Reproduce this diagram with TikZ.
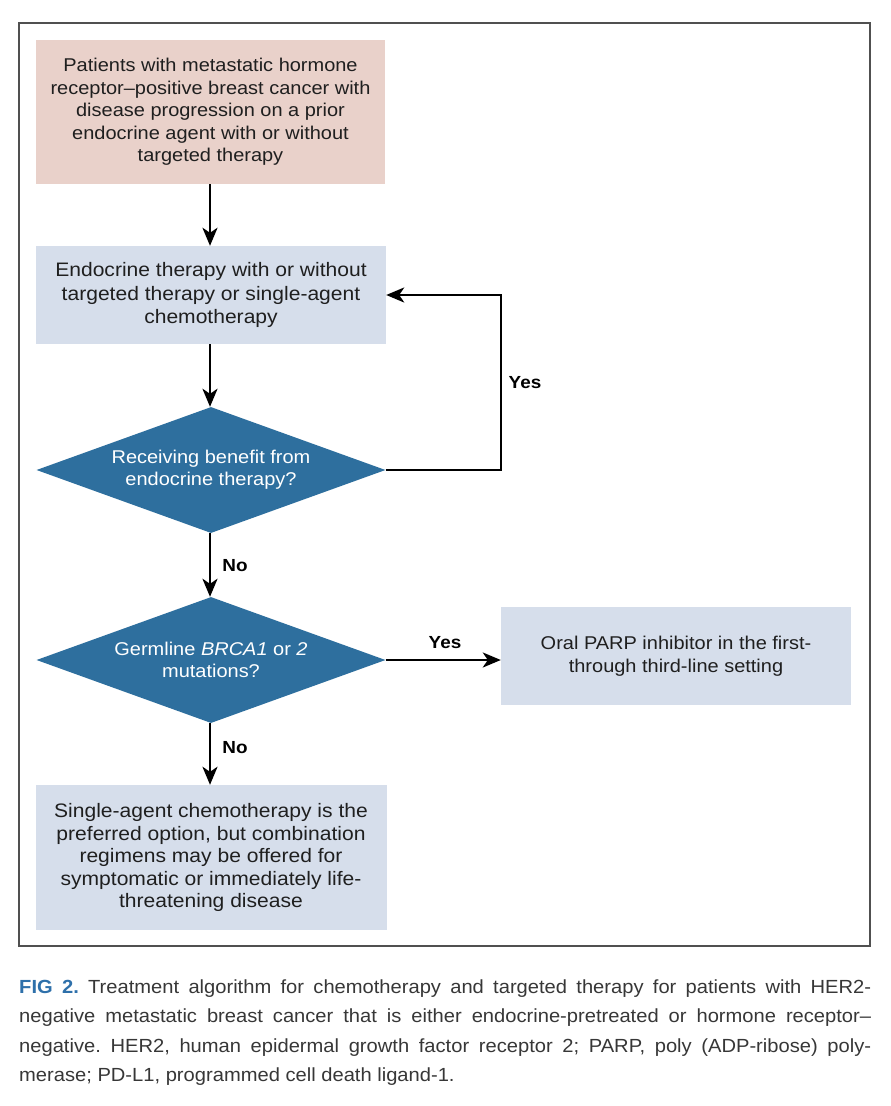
\documentclass[tikz,border=0pt]{standalone}
\usepackage{fontspec}
\setmainfont[FakeStretch=1.08]{Liberation Sans}
\newfontfamily\capfont[FakeStretch=1.06]{Liberation Sans}
\usetikzlibrary{shapes.geometric,arrows.meta}
\frenchspacing
\definecolor{pinkbox}{RGB}{233,209,202}
\definecolor{bluebox}{RGB}{214,222,235}
\definecolor{diamondblue}{RGB}{46,111,158}
\definecolor{figblue}{RGB}{46,112,170}
\definecolor{captext}{RGB}{55,55,55}
\definecolor{framegray}{RGB}{80,80,80}
\tikzset{
  boxtext/.style={font=\fontsize{18.5}{22.5}\selectfont, text=black!88, align=center, inner sep=0pt},
  pinknode/.style={boxtext, fill=pinkbox, minimum width=349pt, minimum height=144pt},
  bluenode/.style={boxtext, fill=bluebox, minimum width=350pt},
  decision/.style={diamond, fill=diamondblue, text=white, align=center, inner sep=0pt,
    minimum width=349pt, minimum height=126pt, shape aspect=2.77,
    font=\fontsize{18.5}{22}\selectfont},
  flowarrow/.style={line width=2.4pt, -{Stealth[length=18pt,width=15pt,inset=5pt]}},
  branchlabel/.style={font=\bfseries\fontsize{17.5}{20}\selectfont, inner sep=0pt},
  capline/.style={anchor=base west, inner sep=0pt, text=captext, font=\capfont\fontsize{19}{24}\selectfont}
}
\begin{document}
\begin{tikzpicture}[x=1pt,y=-1pt]
\useasboundingbox (0,0) rectangle (891,1106);
\fill[white] (0,0) rectangle (891,1106);
\draw[framegray, line width=1.5pt] (19,23) rectangle (870,946);

\node[pinknode] (start) at (210.5,112) {Patients with metastatic hormone\\receptor–positive breast cancer with\\disease progression on a prior\\endocrine agent with or without\\targeted therapy};
\node[bluenode, minimum height=98pt, font=\fontsize{19.5}{23.5}\selectfont] (endo) at (211,295) {Endocrine therapy with or without\\targeted therapy or single-agent\\chemotherapy};
\node[decision] (benefit) at (211,470) {Receiving benefit from\\endocrine therapy?};
\node[decision] (brca) at (211,660) {Germline \textit{BRCA1} or \textit{2}\\mutations?};
\node[bluenode, minimum height=98pt] (parp) at (676,656) {Oral PARP inhibitor in the first-\\through third-line setting};
\node[bluenode, minimum height=145pt, minimum width=351pt, font=\fontsize{19.5}{22.5}\selectfont] (chemo) at (211,857.5) {Single-agent chemotherapy is the\\preferred option, but combination\\regimens may be offered for\\symptomatic or immediately life-\\threatening disease};

\coordinate (loopA) at (501,470);
\coordinate (loopB) at (501,295);

\draw[flowarrow] (start.south -| 210,0) -- (endo.north -| 210,0);
\draw[flowarrow] (endo.south -| 210,0) -- (benefit.north -| 210,0);
\draw[flowarrow] (benefit.south -| 210,0) -- (brca.north -| 210,0);
\draw[flowarrow] (brca.south -| 210,0) -- (chemo.north -| 210,0);
\draw[flowarrow] (brca.east) -- (brca.east -| parp.west);
\draw[flowarrow] (benefit.east) -- (loopA) -- (loopB) -- (endo.east);

\node[branchlabel] (yes1) at (525,383) {Yes};
\node[branchlabel] (yes2) at (445,643) {Yes};
\node[branchlabel] (no1) at (235,566) {No};
\node[branchlabel] (no2) at (235,748) {No};

\node[capline] (cap1) at (19,993) {\makebox[852pt][s]{\textcolor{figblue}{\bfseries FIG 2.} Treatment algorithm for chemotherapy and targeted therapy for patients with HER2-}};
\node[capline] (cap2) at (19,1022.5) {\makebox[852pt][s]{negative metastatic breast cancer that is either endocrine-pretreated or hormone receptor–}};
\node[capline] (cap3) at (19,1052) {\makebox[852pt][s]{negative. HER2, human epidermal growth factor receptor 2; PARP, poly (ADP-ribose) poly-}};
\node[capline] (cap4) at (19,1081.5) {merase; PD-L1, programmed cell death ligand-1.};
\end{tikzpicture}
\end{document}
